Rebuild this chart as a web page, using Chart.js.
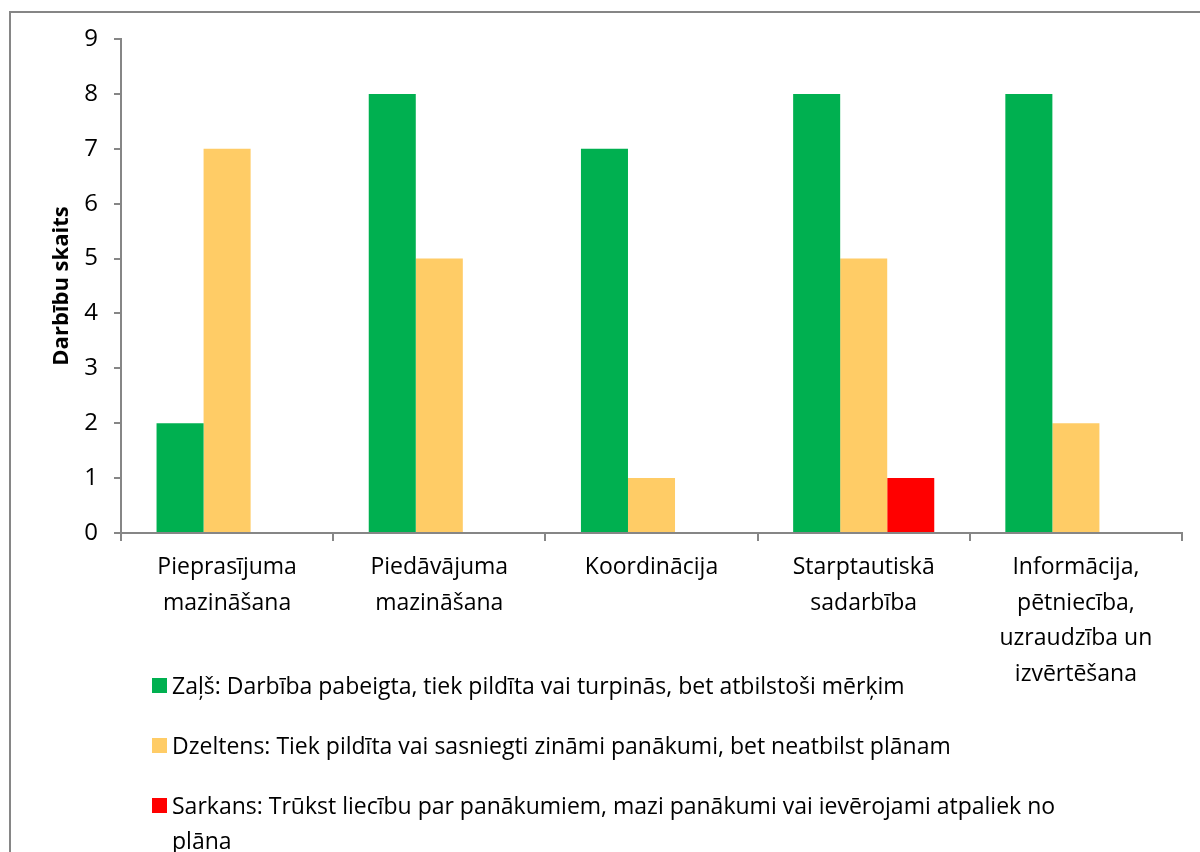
<!DOCTYPE html>
<html>
<head>
<meta charset="utf-8">
<script src="https://cdn.jsdelivr.net/npm/chart.js@4"></script>
<style>
  html, body { margin: 0; padding: 0; background: #fff; overflow: hidden; }
  #wrap { position: relative; width: 1200px; height: 852px; }
  #frame { position: absolute; left: 9px; top: 11px; width: 1300px; height: 1000px;
           border: 2px solid #868686; box-sizing: border-box; }
  canvas { position: absolute; left: 0; top: 0; }
  #legend { position: absolute; left: 152px; top: 668px; width: 915px;
            font-family: "Open Sans", sans-serif; font-size: 23px; color: #000; }
  .item { display: flex; align-items: flex-start; margin-bottom: 25px; line-height: 35px; }
  .box  { width: 15px; height: 15px; flex: none; margin: 10px 5px 0 0; }
</style>
</head>
<body>
<div id="wrap">
  <div id="frame"></div>
  <canvas id="c" width="1200" height="852"></canvas>
  <div id="legend"></div>
</div>
<script>
/* ---------- data ---------- */
const categories = [
  ["Pieprasījuma", "mazināšana"],
  ["Piedāvājuma", "mazināšana"],
  ["Koordinācija"],
  ["Starptautiskā", "sadarbība"],
  ["Informācija,", "pētniecība,", "uzraudzība un", "izvērtēšana"]
];
const green  = [2, 8, 7, 8, 8];
const yellow = [7, 5, 1, 5, 2];
const red    = [0, 0, 0, 1, 0];
const seriesNames = [
  "Zaļš: Darbība pabeigta, tiek pildīta vai turpinās, bet atbilstoši mērķim",
  "Dzeltens: Tiek pildīta vai sasniegti zināmi panākumi, bet neatbilst plānam",
  "Sarkans: Trūkst liecību par panākumiem, mazi panākumi vai ievērojami atpaliek no plāna"
];
const colors = ["#00B050", "#FFCC66", "#FF0000"];
const yTitle = "Darbību skaits";

const FONT = "'Open Sans', sans-serif";
const axisGray = "#868686";

const chart = new Chart(document.getElementById("c"), {
  type: "bar",
  data: {
    labels: categories,
    datasets: [green, yellow, red].map((d, i) => ({
      label: seriesNames[i], data: d, backgroundColor: colors[i],
      categoryPercentage: 0.665, barPercentage: 1.0
    }))
  },
  options: {
    responsive: false, animation: false,
    layout: { padding: { left: 0, right: 18, top: 39, bottom: 169 } },
    plugins: { legend: { display: false }, tooltip: { enabled: false } },
    scales: {
      x: {
        grid: { offset: true, drawOnChartArea: false, drawTicks: true, tickLength: 8, color: axisGray, lineWidth: 2 },
        border: { color: axisGray, width: 2 },
        ticks: { color: "#000", font: { family: FONT, size: 23, lineHeight: 1.54 }, padding: 9, maxRotation: 0, autoSkip: false },
        afterFit: s => { s.height = 150; }
      },
      y: {
        min: 0, max: 9,
        ticks: { stepSize: 1, color: "#000", font: { family: FONT, size: 24 }, padding: 16 },
        grid: { drawOnChartArea: false, drawTicks: true, tickLength: 7, color: axisGray, lineWidth: 2 },
        border: { color: axisGray, width: 2 },
        title: { display: true, text: yTitle, color: "#000", padding: { top: 49, bottom: 4 },
                 font: { family: FONT, size: 22, weight: "bold" } },
        afterFit: s => { s.width = 121; }
      }
    }
  }
});

/* ---------- html legend ---------- */
const lg = document.getElementById("legend");
chart.data.datasets.forEach(ds => {
  const it = document.createElement("div");
  it.className = "item";
  it.innerHTML = `<span class="box" style="background:${ds.backgroundColor}"></span><span>${ds.label}</span>`;
  lg.appendChild(it);
});
</script>
</body>
</html>
